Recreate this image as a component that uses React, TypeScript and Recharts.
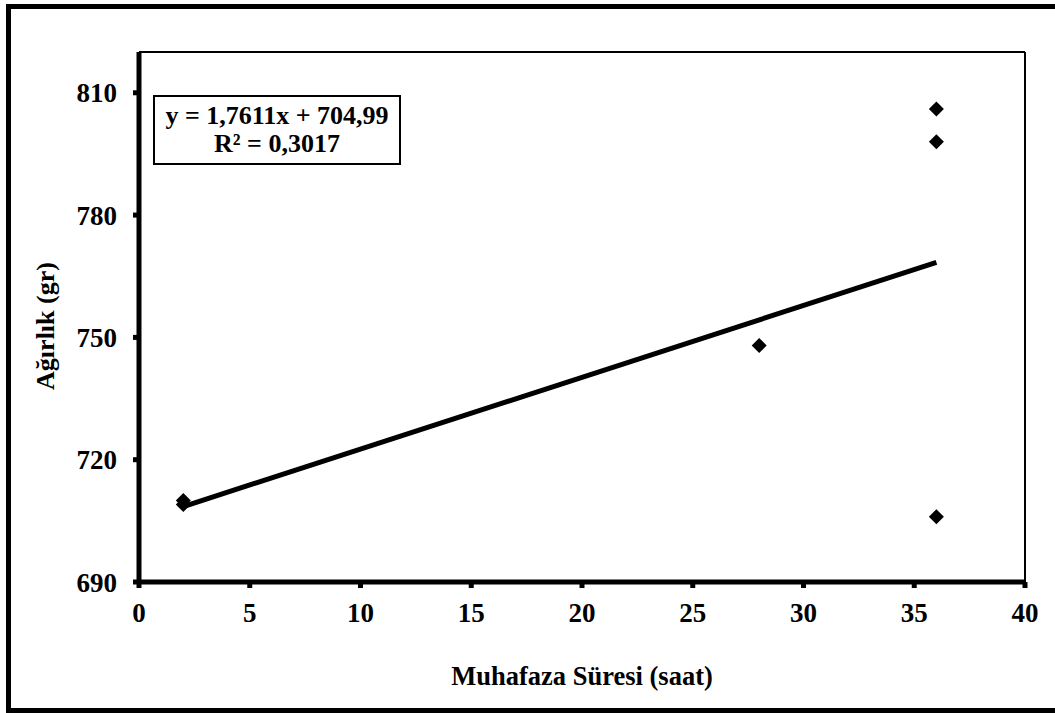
import React from 'react';
import { ScatterChart, Scatter, XAxis, YAxis, ReferenceLine } from 'recharts';

const hours = [2, 2, 28, 36, 36, 36];
const weights = [710, 709, 748, 806, 798, 706];
const trendHours = [2, 36];
const trendWeights = [708.51, 768.39];
const xTicks = [0, 5, 10, 15, 20, 25, 30, 35, 40];
const yTicks = [690, 720, 750, 780, 810];

const points = hours.map((x, i) => ({ x, y: weights[i] }));
const trend = trendHours.map((x, i) => ({ x, y: trendWeights[i] }));

const FONT = '"Liberation Serif", "Times New Roman", serif';

const Diamond = (props: any) => {
  const { cx, cy } = props;
  if (cx == null || cy == null) return null;
  const r = 7.5;
  return (
    <polygon
      points={`${cx},${cy - r} ${cx + r},${cy} ${cx},${cy + r} ${cx - r},${cy}`}
      fill="#000"
    />
  );
};

const NoShape = () => null;

const YTitle = () => (
  <text
    x={45}
    y={326}
    transform="rotate(-90 45 326)"
    textAnchor="middle"
    dominantBaseline="central"
    style={{ fontFamily: FONT, fontSize: 26, fontWeight: 'bold', fill: '#000' }}
  >
    Ağırlık (gr)
  </text>
);

const XTitle = () => (
  <text
    x={582}
    y={676}
    textAnchor="middle"
    dominantBaseline="central"
    style={{ fontFamily: FONT, fontSize: 26.5, fontWeight: 'bold', fill: '#000' }}
  >
    Muhafaza Süresi (saat)
  </text>
);

export default function App() {
  const tickStyle = { fontFamily: FONT, fontSize: 27, fontWeight: 'bold', fill: '#000' };
  return (
    <div style={{ position: 'absolute', left: 0, top: 0, width: 1055, height: 713, overflow: 'hidden', background: '#fff' }}>
      <div
        style={{
          position: 'absolute',
          left: 6,
          top: 4,
          width: 1200,
          height: 699,
          border: '5px solid #000',
        }}
      />
      <div style={{ position: 'absolute', left: 0, top: 0 }}>
        <ScatterChart width={1055} height={713} margin={{ top: 52, right: 30, bottom: 71, left: 0 }}>
          <XAxis
            type="number"
            dataKey="x"
            height={60}
            domain={[0, 40]}
            ticks={xTicks}
            interval={0}
            axisLine={{ stroke: '#000', strokeWidth: 5 }}
            tickLine={{ stroke: '#000', strokeWidth: 5 }}
            tickSize={6}
            tickMargin={15}
            tick={tickStyle}
            label={{ content: XTitle }}
          />
          <YAxis
            type="number"
            dataKey="y"
            width={139}
            domain={[690, 820]}
            ticks={yTicks}
            interval={0}
            axisLine={{ stroke: '#000', strokeWidth: 5 }}
            tickLine={{ stroke: '#000', strokeWidth: 5 }}
            tickSize={6}
            tickMargin={16}
            tick={tickStyle}
            label={{ content: YTitle }}
          />
          <ReferenceLine y={820} stroke="#000" strokeWidth={2} />
          <ReferenceLine x={40} stroke="#000" strokeWidth={2} />
          <Scatter
            data={trend}
            line={{ stroke: '#000', strokeWidth: 5 }}
            shape={NoShape}
            isAnimationActive={false}
          />
          <Scatter data={points} shape={Diamond} isAnimationActive={false} />
        </ScatterChart>
      </div>
      <div
        style={{
          position: 'absolute',
          left: 153,
          top: 95,
          width: 244,
          height: 66,
          border: '2px solid #000',
          background: '#fff',
          fontFamily: FONT,
          fontWeight: 'bold',
          fontSize: 26,
          lineHeight: '28px',
          textAlign: 'center',
          display: 'flex',
          flexDirection: 'column',
          justifyContent: 'center',
        }}
      >
        <div style={{ height: 28, whiteSpace: 'nowrap' }}>y = 1,7611x + 704,99</div>
        <div style={{ height: 28, whiteSpace: 'nowrap' }}>R² = 0,3017</div>
      </div>
    </div>
  );
}
